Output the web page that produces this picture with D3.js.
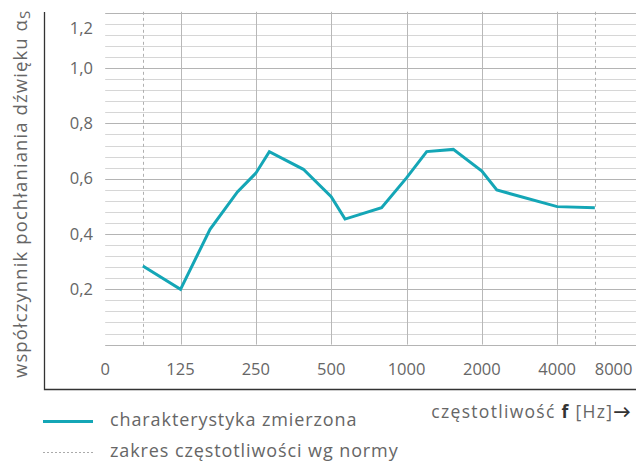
<!DOCTYPE html>
<html>
<head>
<meta charset="utf-8">
<script src="https://cdn.jsdelivr.net/npm/d3@7"></script>
<style>
  html, body { margin: 0; padding: 0; background: #fff; }
  svg { display: block; font-family: "Open Sans", Lato, sans-serif; }
</style>
</head>
<body>
<svg id="chart" width="636" height="461"></svg>
<script>
// Measured sound absorption coefficient vs. frequency
const frequencies = [88.4, 125, 164, 211, 250, 283, 387, 500, 568, 795, 1000, 1204, 1538, 2000, 2295, 4000, 5657];
const alphaValues = [0.284, 0.200, 0.417, 0.552, 0.620, 0.698, 0.634, 0.535, 0.454, 0.495, 0.603, 0.698, 0.706, 0.628, 0.559, 0.499, 0.495];

// Octave tick positions and their labels
const xTicks = [62.5, 125, 250, 500, 1000, 2000, 4000, 8000];
const xTickLabels = ["0", "125", "250", "500", "1000", "2000", "4000", "8000"];
const yTicks = [0.2, 0.4, 0.6, 0.8, 1.0, 1.2];
const yMinorStep = 0.04;
// Frequency range of the standard (dashed verticals)
const normRange = [88.4, 5657];

const teal = "#14a6b6";
const textGray = "#666";

const svg = d3.select("#chart");

const x = d3.scaleLog().domain([62.5, 8000]).range([105.2, 632.5]);
const y = d3.scaleLinear().domain([0, 1.2]).range([344.6, 12.8]);

const grid = svg.append("g");

// horizontal grid: minor lines every 0.04, darker at the labelled values
const minorVals = d3.range(0, 1.2 + 1e-9, yMinorStep);
grid.selectAll("line.hminor")
  .data(minorVals)
  .join("line")
  .attr("x1", x.range()[0]).attr("x2", 636)
  .attr("y1", d => Math.round(y(d)) + 0.5).attr("y2", d => Math.round(y(d)) + 0.5)
  .attr("stroke", (d, i) => (i % 5 === 0 ? "#b4b4b4" : "#d6d6d6"))
  .attr("stroke-width", 1);

// vertical grid at octave frequencies
grid.selectAll("line.v")
  .data(xTicks.slice(1, -1))
  .join("line")
  .attr("x1", d => Math.round(x(d)) + 0.5).attr("x2", d => Math.round(x(d)) + 0.5)
  .attr("y1", y(1.2) - 1).attr("y2", y(0))
  .attr("stroke", "#b8b8b8").attr("stroke-width", 1);

// dashed verticals bounding the standard frequency range
grid.selectAll("line.norm")
  .data(normRange)
  .join("line")
  .attr("x1", d => Math.round(x(d)) + 0.5).attr("x2", d => Math.round(x(d)) + 0.5)
  .attr("y1", y(1.2) - 1).attr("y2", y(0) + 3)
  .attr("stroke", "#b0b0b0").attr("stroke-width", 1)
  .attr("stroke-dasharray", "3,3");

// axis frame
svg.append("path")
  .attr("d", "M44.5,12 V389.5 H636")
  .attr("fill", "none").attr("stroke", "#333").attr("stroke-width", 1.3);

// y tick labels
svg.append("g").selectAll("text")
  .data(yTicks)
  .join("text")
  .attr("x", 93)
  .attr("y", d => y(d) + (d === 1.2 ? 15 : 0))
  .attr("dy", "0.35em")
  .attr("text-anchor", "end")
  .attr("fill", textGray)
  .attr("font-size", 16.5)
  .text(d => d3.format(".1f")(d).replace(".", ","));

// x tick labels
svg.append("g").selectAll("text")
  .data(xTicks)
  .join("text")
  .attr("x", d => x(d))
  .attr("y", 369)
  .attr("dy", "0.35em")
  .attr("text-anchor", (d, i) => (i === xTicks.length - 1 ? "end" : "middle"))
  .attr("fill", textGray)
  .attr("font-size", 16.5)
  .text((d, i) => xTickLabels[i]);

// y axis title
const yTitle = svg.append("text")
  .attr("transform", "translate(27,378) rotate(-90)")
  .attr("fill", textGray)
  .attr("font-size", 18.5)
  .attr("letter-spacing", 1.1);
yTitle.append("tspan").text("współczynnik pochłaniania dźwięku α");
yTitle.append("tspan").attr("font-size", 15).attr("dy", 3).text("S");

// x axis title
const xTitle = svg.append("text")
  .attr("x", 632).attr("y", 412).attr("dy", "0.35em")
  .attr("text-anchor", "end")
  .attr("fill", textGray)
  .attr("font-size", 17.5)
  .attr("letter-spacing", 1.3);
xTitle.append("tspan").text("częstotliwość ");
xTitle.append("tspan").attr("font-weight", "bold").attr("fill", "#333").text("f");
xTitle.append("tspan").text(" [Hz]");
xTitle.append("tspan").attr("fill", "#333").attr("font-weight", "bold").text("→");

// measured curve
const line = d3.line()
  .x(d => x(d[0]))
  .y(d => y(d[1]));
svg.append("path")
  .datum(d3.zip(frequencies, alphaValues))
  .attr("d", line)
  .attr("fill", "none")
  .attr("stroke", teal)
  .attr("stroke-width", 3)
  .attr("stroke-linejoin", "miter");

// legend
const legend = svg.append("g");
legend.append("line")
  .attr("x1", 43).attr("x2", 93).attr("y1", 421.5).attr("y2", 421.5)
  .attr("stroke", teal).attr("stroke-width", 3);
legend.append("text")
  .attr("x", 110).attr("y", 420).attr("dy", "0.35em")
  .attr("fill", textGray).attr("font-size", 18)
  .attr("letter-spacing", 0.9)
  .text("charakterystyka zmierzona");
legend.append("line")
  .attr("x1", 43).attr("x2", 93).attr("y1", 452.5).attr("y2", 452.5)
  .attr("stroke", "#aaa").attr("stroke-width", 1).attr("stroke-dasharray", "2,2");
legend.append("text")
  .attr("x", 110).attr("y", 451).attr("dy", "0.35em")
  .attr("fill", textGray).attr("font-size", 18)
  .attr("letter-spacing", 0.9)
  .text("zakres częstotliwości wg normy");
</script>
</body>
</html>
